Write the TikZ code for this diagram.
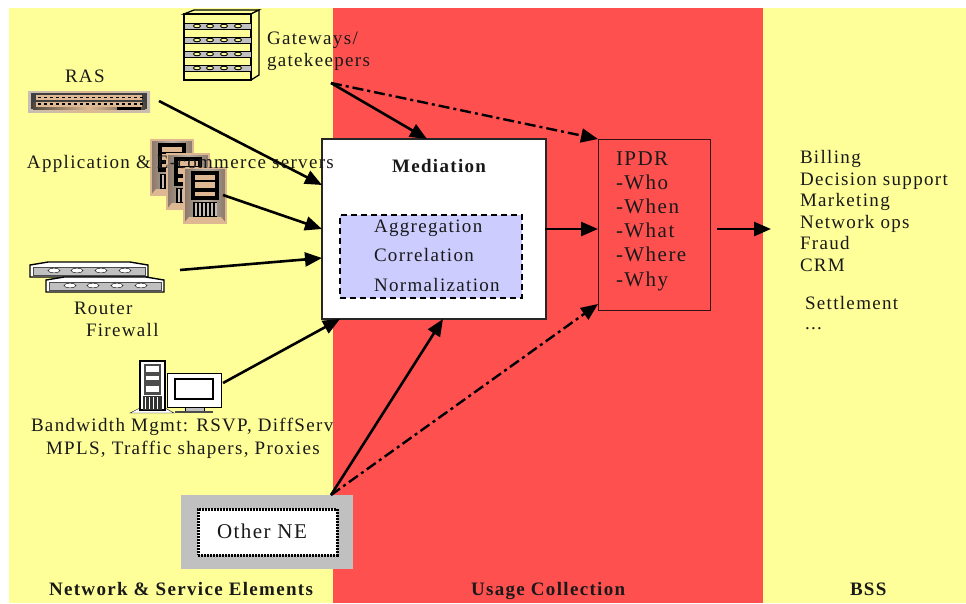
\documentclass[tikz,border=0pt]{standalone}
\usepackage{fontspec}
\setmainfont[LetterSpace=7]{Liberation Serif}
\usetikzlibrary{arrows.meta}
\definecolor{paleyellow}{HTML}{FFFF99}
\definecolor{usagered}{HTML}{FF5050}
\definecolor{lavender}{HTML}{CCCCFF}
\definecolor{boxgrey}{HTML}{C0C0C0}
\definecolor{tan}{HTML}{DDB892}
\definecolor{rack}{HTML}{8A7868}
\tikzset{
 lbl/.style={anchor=base west, inner sep=0, outer sep=0, text=black!90, font=\fontsize{19}{21}\selectfont},
 biglbl/.style={lbl, font=\fontsize{21}{23}\selectfont},
 hdr/.style={lbl, font=\fontsize{19}{21}\selectfont\bfseries},
 box/.style={inner sep=0, outer sep=0, minimum width=#1},
 flow/.style={black, line width=2.6pt, -{Triangle[length=17pt,width=14pt]}},
 alt/.style={flow, line width=2.4pt, dash pattern=on 11pt off 4pt on 3pt off 4pt},
}
\begin{document}
\begin{tikzpicture}[x=1pt,y=-1pt]
\useasboundingbox (0,0) rectangle (966,603);
\fill[white] (0,0) rectangle (966,603);
\fill[paleyellow] (9,8) rectangle (333,603);
\fill[usagered] (333,8) rectangle (763,603);
\fill[paleyellow] (763,8) rectangle (966,603);
% gateway rack
\draw[black, line width=1.3pt, fill=paleyellow] (184,14)--(194,10)--(259,10)--(251,14)--cycle;
\draw[black, line width=1.3pt, fill=paleyellow] (251,14)--(259,10)--(259,75)--(251,80)--cycle;
\draw[black, line width=1.3pt, fill=paleyellow] (184,14) rectangle (251,80);
\foreach \y in {23,37,51,65} {
 \draw[black, line width=1pt, fill=boxgrey] (184,\y) rectangle (251,\y+6);
 \foreach \x in {197,210,224,238}
  \draw[black, line width=.9pt, fill=paleyellow] (\x,\y+3) ellipse (3.5 and 1.8);
}
% RAS
\shade[left color=boxgrey!70!tan, right color=boxgrey!70!tan, middle color=tan] (28,91) rectangle (150,112);
\fill[black!75] (31,93) rectangle (147,109);
\shade[left color=rack!60!black, right color=rack!60!black, middle color=tan] (33,102) rectangle (145,109);
\fill[tan] (36,95) rectangle (142,100);
\fill[tan] (36,102) rectangle (142,107);
\foreach \x in {38,44,...,140} {
 \fill[black] (\x,96.5) rectangle ++(3,1.6);
 \fill[black] (\x,103.2) rectangle ++(3,1.6);
}
\fill[black] (117,107) rectangle (141,110);
% servers
\foreach \sx/\sy in {151/140,167/154,184/168} {
 \begin{scope}[shift={(\sx,\sy)}]
 \shade[left color=rack, right color=rack, middle color=rack!60] (0,0) rectangle (42,55);
 \draw[tan, very thick] (0,0) rectangle (42,55);
 \fill[tan] (0,55)--(5,49)--(37,49)--(42,55)--cycle;
 \fill[black] (7,3) rectangle (35,32);
 \fill[tan] (11,7) rectangle (31,28);
 \fill[black] (11,12) rectangle (31,14);
 \fill[black] (11,20) rectangle (31,24);
 \fill[black] (9,34) rectangle (33,49);
 \foreach \x in {11,15,...,31}
  \fill[rack!50] (\x,35) rectangle ++(1.5,13);
 \end{scope}
}
% routers
\foreach \sx/\sy in {30/262,46/277} {
 \begin{scope}[shift={(\sx,\sy)}]
 \draw[black, line width=1.4pt, fill=white] (0,3)--(18,0)--(100,0)--(118,3)--(118,15)--(0,15)--cycle;
 \draw[black!70, fill=boxgrey] (3,5) rectangle (115,13);
 \foreach \x in {24,47,71,95}
  \draw[black, fill=white] (\x,8.5) ellipse (6 and 2.3);
 \end{scope}
}
% workstation
\draw[black, fill=white] (130,413)--(140,408)--(165,408)--(174,413)--cycle;
\draw[black, line width=1.2pt, fill=white] (140,361) rectangle (165,410);
\fill[black!70] (144,364) rectangle (161,395);
\fill[white] (146,366) rectangle (159,372);
\fill[white] (146,376) rectangle (159,380);
\fill[white] (146,386) rectangle (159,392);
\fill[black!80] (143,396) rectangle (162,410);
\foreach \x in {145,149,...,159}
 \fill[white] (\x,397) rectangle ++(1,12);
\draw[black, fill=white] (167,373) rectangle (221,407);
\draw[black, line width=1.6pt, fill=white] (175,379) rectangle (213,399);
\draw[black, fill=boxgrey] (185,407) rectangle (204,411);
\fill[black!70] (175,411) rectangle (213,413);
% nodes
\node[box=224, draw=black!85!white, line width=1.4pt, fill=white, minimum height=180] (mediation) at (434,229) {};
\node[box=182, draw=black, line width=2.2pt, dash pattern=on 6pt off 4pt, fill=lavender, minimum height=83] (tasks) at (431,256.5) {};
\node[box=112, draw=black!80!usagered, line width=.8pt, minimum height=171] (ipdr) at (654,224.5) {};
\node[box=172, fill=boxgrey, minimum height=74] (otherbox) at (267,532) {};
\node[box=139, draw=black, fill=white, line width=3pt, dash pattern=on 2pt off 1pt, minimum height=46] (otherne) at (267.5,532) {};
\coordinate (rasout) at (159,101);
\coordinate (serverout) at (223,195);
\coordinate (routerout) at (180,270);
\coordinate (bwout) at (223,383);
\coordinate (gwout) at (331,83);
\coordinate (bssin) at (771,229);
% connectors
\draw[flow] (rasout)--([yshift=44pt]mediation.west);
\draw[flow] (serverout)--(mediation.west);
\draw[flow] (routerout)--([yshift=-29pt]mediation.west);
\draw[flow] (bwout)--([xshift=18pt]mediation.south west);
\draw[flow] (gwout)--([xshift=-7pt]mediation.north);
\draw[alt] (gwout)--(ipdr.north west);
\draw[flow] ([xshift=-22pt]otherbox.north east)--([xshift=9pt]mediation.south);
\draw[alt] ([xshift=-22pt]otherbox.north east)--([yshift=6pt]ipdr.south west);
\draw[flow] ([xshift=-1pt]mediation.east)--([yshift=-4.5pt]ipdr.west);
\draw[flow] ([xshift=7pt,yshift=-4.5pt]ipdr.east)--(bssin);
% labels
\node[lbl] (gateways) at (267,44) {Gateways/};
\node[lbl] (gatekeepers) at (267,66) {gatekeepers};
\node[lbl] (ras) at (65,82) {RAS};
\node[lbl] (appservers) at (27,168) {Application \& E-commerce servers};
\node[lbl] (router) at (74,314) {Router};
\node[lbl] (firewall) at (86,336) {Firewall};
\node[lbl] (bwmgmt) at (31,431) {Bandwidth Mgmt: RSVP, DiffServ};
\node[lbl] (mpls) at (46,454) {MPLS, Traffic shapers, Proxies};
\node[hdr] (medtitle) at (392,172) {Mediation};
\node[lbl] (aggr) at (374,232) {Aggregation};
\node[lbl] (corr) at (374,261) {Correlation};
\node[lbl] (norm) at (374,291) {Normalization};
\foreach \y/\t [count=\i] in {165/IPDR,189/-Who,213/-When,237/-What,261/-Where,286/-Why}
 \node[biglbl] (ipdrline\i) at (616,\y) {\t};
\foreach \y/\t [count=\i] in {163/Billing,185/Decision support,206/Marketing,228/Network ops,249/Fraud,271/CRM}
 \node[lbl] (bssline\i) at (800,\y) {\t};
\node[lbl] (settlement) at (805,309) {Settlement};
\node[lbl] (more) at (805,329) {...};
\node[biglbl] (othertext) at (217,538) {Other NE};
\node[hdr] (nselabel) at (49,595) {Network \& Service Elements};
\node[hdr] (usagelabel) at (471,595) {Usage Collection};
\node[hdr] (bsslabel) at (850,595) {BSS};
\end{tikzpicture}
\end{document}
